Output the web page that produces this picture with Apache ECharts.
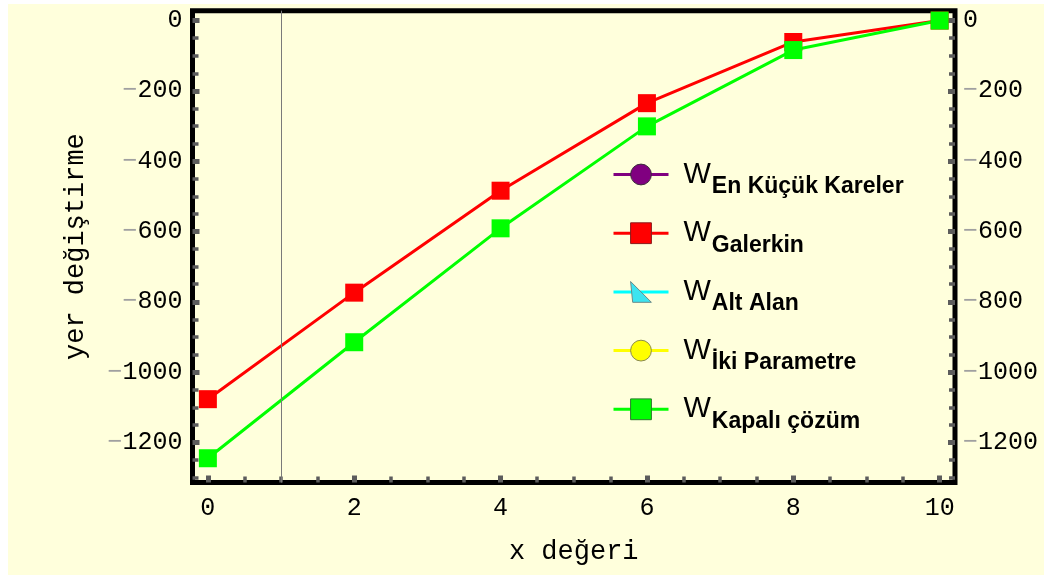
<!DOCTYPE html>
<html>
<head>
<meta charset="utf-8">
<script src="https://cdn.jsdelivr.net/npm/echarts@6/dist/echarts.min.js"></script>
<style>
  html, body { margin: 0; padding: 0; background: #ffffff; }
  #paper { position: absolute; left: 8px; top: 4px; width: 1036px; height: 571px; background: #FFFFDC; }
  #chart { position: absolute; left: 0; top: 0; width: 1044px; height: 575px; }
</style>
</head>
<body>
<div id="paper"></div>
<div id="chart"></div>
<script>
// x positions along the beam and the displacement values for each method
const xValues = [0, 2, 4, 6, 8, 10];
const enKucukKareler = [];
const galerkin = [-1077, -774, -484, -235, -61, 0];
const altAlan = [];
const ikiParametre = [];
const kapaliCozum = [-1245, -915, -591, -301, -84, 0];

// tick marks
const xMajorTicks = [0, 2, 4, 6, 8, 10];
const xMinorTicks = [0.5, 1, 1.5, 2.5, 3, 3.5, 4.5, 5, 5.5, 6.5, 7, 7.5, 8.5, 9, 9.5];
const yMajorTicks = [0, -200, -400, -600, -800, -1000, -1200];
const yMinorTicks = [-50, -100, -150, -250, -300, -350, -450, -500, -550, -650, -700, -750,
                     -850, -900, -950, -1050, -1100, -1150, -1250, -1300];
const guideX = 1;

const X_MIN = -0.21, X_MAX = 10.21;
const Y_MIN = -1314, Y_MAX = 28;

const MONO = 'Liberation Mono';
const TICK_COLOR = '#5c5c5c';

// both grids share the same rectangle: grid 0 carries the data and major ticks,
// grid 1 only carries the minor ticks
const PLOT_RECT = { left: 192.5, right: 89, top: 10.7, bottom: 92.5 };

function pairs(ys) { return ys.map((y, i) => [xValues[i], y]); }

function yLabel(v) {
  return v < 0 ? '{m|\u2212}{n|' + Math.abs(v) + '}' : '{n|' + v + '}';
}
const yLabelRich = {
  m: { fontFamily: MONO, fontSize: 25, color: '#a0a0a0' },
  n: { fontFamily: MONO, fontSize: 25, color: '#000' }
};

const hiddenLine = { show: false, onZero: false };

function majorTick(values) {
  return { show: true, inside: true, length: 7, customValues: values,
           lineStyle: { color: TICK_COLOR, width: 5 } };
}
function minorTick(values) {
  return { show: true, inside: true, length: 6, customValues: values,
           lineStyle: { color: TICK_COLOR, width: 3.5 } };
}

const chart = echarts.init(document.getElementById('chart'), null, { renderer: 'canvas' });

const option = {
  animation: false,
  backgroundColor: 'transparent',
  grid: [
    Object.assign({
      show: true, borderColor: '#000', borderWidth: 5,
      backgroundColor: 'transparent', outerBoundsMode: 'none'
    }, PLOT_RECT),
    Object.assign({ show: false, outerBoundsMode: 'none' }, PLOT_RECT)
  ],
  legend: {
    orient: 'vertical',
    left: 612, top: 160,
    padding: 0,
    itemGap: 20.7,
    itemWidth: 55,
    itemHeight: 26,
    selectedMode: false,
    lineStyle: { width: 3 },
    formatter: name => '{w|W}{s|' + name + '}',
    textStyle: {
      rich: {
        w: { fontFamily: 'Liberation Sans', fontSize: 29, color: '#000', lineHeight: 47,
             verticalAlign: 'middle', padding: [0, 0, 0, 10] },
        s: { fontFamily: 'Liberation Sans', fontSize: 23, fontWeight: 'bold', color: '#000',
             verticalAlign: 'bottom', padding: [0, 0, 0, 1] }
      }
    },
    data: [
      { name: 'En Küçük Kareler', itemStyle: { borderColor: '#3a2a3a', borderWidth: 1 } },
      { name: 'Galerkin', itemStyle: { borderColor: '#8a1a1a', borderWidth: 1 } },
      { name: 'Alt Alan', itemStyle: { borderColor: '#6a8a8a', borderWidth: 1 } },
      { name: 'İki Parametre', itemStyle: { borderColor: '#8a8a4a', borderWidth: 1 } },
      { name: 'Kapalı çözüm', itemStyle: { borderColor: '#2a7a2a', borderWidth: 1 } }
    ]
  },
  xAxis: [
    {
      gridIndex: 0, type: 'value', min: X_MIN, max: X_MAX, position: 'bottom',
      axisLine: hiddenLine, splitLine: { show: false },
      axisTick: majorTick(xMajorTicks),
      axisLabel: { customValues: xMajorTicks, margin: 13, fontFamily: MONO, fontSize: 25, color: '#000' },
      name: 'x değeri', nameLocation: 'middle', nameGap: 56,
      nameTextStyle: { fontFamily: MONO, fontSize: 27, color: '#000' }
    },
    {
      gridIndex: 1, type: 'value', min: X_MIN, max: X_MAX, position: 'bottom',
      axisLine: hiddenLine, splitLine: { show: false },
      axisTick: minorTick(xMinorTicks),
      axisLabel: { show: false }
    }
  ],
  yAxis: [
    {
      gridIndex: 0, type: 'value', min: Y_MIN, max: Y_MAX, position: 'left',
      axisLine: hiddenLine, splitLine: { show: false },
      axisTick: majorTick(yMajorTicks),
      axisLabel: { customValues: yMajorTicks, margin: 10, formatter: yLabel, rich: yLabelRich },
      name: 'yer değiştirme', nameLocation: 'middle', nameGap: 103,
      nameTextStyle: { fontFamily: MONO, fontSize: 27, color: '#000' }
    },
    {
      gridIndex: 0, type: 'value', min: Y_MIN, max: Y_MAX, position: 'right',
      axisLine: hiddenLine, splitLine: { show: false },
      axisTick: majorTick(yMajorTicks),
      axisLabel: { customValues: yMajorTicks, margin: 8, formatter: yLabel, rich: yLabelRich }
    },
    {
      gridIndex: 1, type: 'value', min: Y_MIN, max: Y_MAX, position: 'left',
      axisLine: hiddenLine, splitLine: { show: false },
      axisTick: minorTick(yMinorTicks),
      axisLabel: { show: false }
    },
    {
      gridIndex: 1, type: 'value', min: Y_MIN, max: Y_MAX, position: 'right',
      axisLine: hiddenLine, splitLine: { show: false },
      axisTick: minorTick(yMinorTicks),
      axisLabel: { show: false }
    }
  ],
  series: [
    {
      // thin vertical guide at x = 1, kept beneath the curves
      name: 'guide', type: 'line', data: [], z: 1, silent: true,
      markLine: {
        silent: true, symbol: ['none', 'none'], label: { show: false },
        lineStyle: { color: '#7a7a7a', width: 1, type: 'solid' },
        data: [{ xAxis: guideX }]
      }
    },
    {
      name: 'En Küçük Kareler', type: 'line', data: pairs(enKucukKareler),
      symbol: 'circle', symbolSize: 18,
      lineStyle: { color: '#800080', width: 3 }, itemStyle: { color: '#800080' }
    },
    {
      name: 'Galerkin', type: 'line', data: pairs(galerkin),
      symbol: 'rect', symbolSize: 18,
      lineStyle: { color: '#FF0000', width: 3 }, itemStyle: { color: '#FF0000' }
    },
    {
      name: 'Alt Alan', type: 'line', data: pairs(altAlan),
      symbol: 'path://M0,0 L1,10 L10,10 Z', symbolSize: 18,
      lineStyle: { color: '#00FFFF', width: 3 }, itemStyle: { color: '#3CE4F0' }
    },
    {
      name: 'İki Parametre', type: 'line', data: pairs(ikiParametre),
      symbol: 'circle', symbolSize: 18,
      lineStyle: { color: '#FFFF00', width: 3 }, itemStyle: { color: '#FFFF00' }
    },
    {
      name: 'Kapalı çözüm', type: 'line', data: pairs(kapaliCozum),
      symbol: 'rect', symbolSize: 18,
      lineStyle: { color: '#00FF00', width: 3 }, itemStyle: { color: '#00FF00' }
    }
  ]
};

chart.setOption(option);
</script>
</body>
</html>
